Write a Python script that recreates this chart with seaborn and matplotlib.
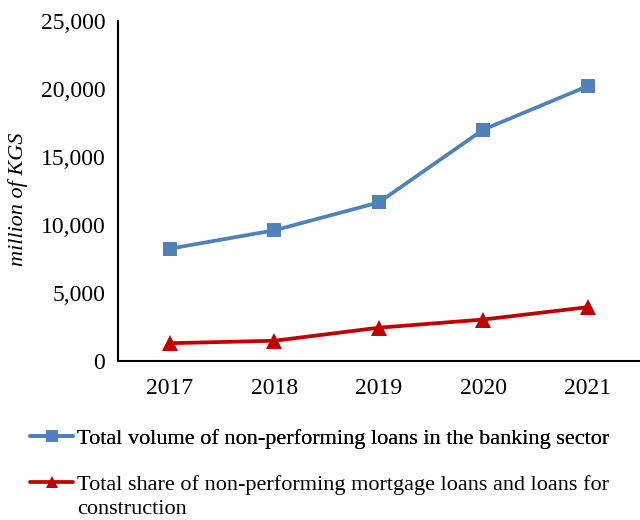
import matplotlib
matplotlib.use('Agg')
import matplotlib.pyplot as plt
import matplotlib.ticker as mticker
from matplotlib.lines import Line2D
import seaborn as sns
import pandas as pd

years = [2017, 2018, 2019, 2020, 2021]
npl_total = [8250, 9600, 11650, 17000, 20200]
npl_mortgage = [1300, 1480, 2440, 3040, 3950]
label_total = 'Total volume of non-performing loans in the banking sector'
label_mortgage = 'Total share of non-performing mortgage loans and loans for'
label_mortgage_2 = 'construction'

sns.set_style('white')
plt.rcParams['font.family'] = ['Liberation Serif', 'DejaVu Serif']
plt.rcParams['font.size'] = 16
plt.rcParams['text.color'] = 'black'
plt.rcParams['xtick.color'] = 'black'
plt.rcParams['ytick.color'] = 'black'
plt.rcParams['axes.labelcolor'] = 'black'

blue = '#4F81BD'
red = '#C00000'

df = pd.DataFrame({'year': years, 'total': npl_total, 'mortgage': npl_mortgage})

fig = plt.figure(figsize=(6.4, 5.2), dpi=100)
ax = fig.add_axes([0.184, 0.306, 0.816, 0.654])

sns.lineplot(data=df, x='year', y='total', ax=ax, color=blue, linewidth=2.7,
             marker='s', markersize=10.5, markeredgewidth=0)
sns.lineplot(data=df, x='year', y='mortgage', ax=ax, color=red, linewidth=2.7,
             marker='^', markersize=11, markeredgewidth=0)

ax.set_xlim(years[0] - 0.5, years[-1] + 0.5)
ax.set_ylim(0, 25000)
ax.yaxis.set_major_locator(mticker.MultipleLocator(5000))
ax.yaxis.set_major_formatter(mticker.FuncFormatter(lambda v, p: f'{int(v):,}'))

# ticks between categories, labels at categories
ax.set_xticks([y - 0.5 for y in years] + [years[-1] + 0.5])
ax.set_xticklabels([])
ax.set_xticks(years, minor=True)
ax.set_xticklabels([str(y) for y in years], minor=True)
ax.tick_params(axis='x', which='major', direction='out', length=5, width=1.2, color='black')
ax.tick_params(axis='x', which='minor', length=0, pad=12, labelsize=17)
ax.tick_params(axis='y', direction='out', length=5, width=1.2, color='black', labelsize=17, pad=4)

for s in ['top', 'right']:
    ax.spines[s].set_visible(False)
for s in ['left', 'bottom']:
    ax.spines[s].set_color('black')
    ax.spines[s].set_linewidth(1.5)

ax.set_xlabel('')
ax.set_ylabel('million of KGS', fontstyle='italic', fontsize=16)
ax.yaxis.set_label_coords(-0.172, 0.476)

h1 = Line2D([], [], color=blue, linewidth=2.7, marker='s', markersize=8, markeredgewidth=0)
h2 = Line2D([], [], color=red, linewidth=2.7, marker='^', markersize=8, markeredgewidth=0)
h3 = Line2D([], [], color='none')

leg1 = fig.legend([h1], [label_total], loc='upper left', bbox_to_anchor=(0.047, 0.177),
                  frameon=False, handlelength=1.95, handletextpad=0.15, fontsize=16,
                  borderaxespad=0, borderpad=0)
fig.add_artist(leg1)
fig.legend([h2, h3], [label_mortgage, label_mortgage_2], loc='upper left',
           bbox_to_anchor=(0.047, 0.088), frameon=False, handlelength=1.95,
           handletextpad=0.15, fontsize=16, labelspacing=0.15,
           borderaxespad=0, borderpad=0)

fig.savefig('out.png', dpi=100, facecolor='white')
